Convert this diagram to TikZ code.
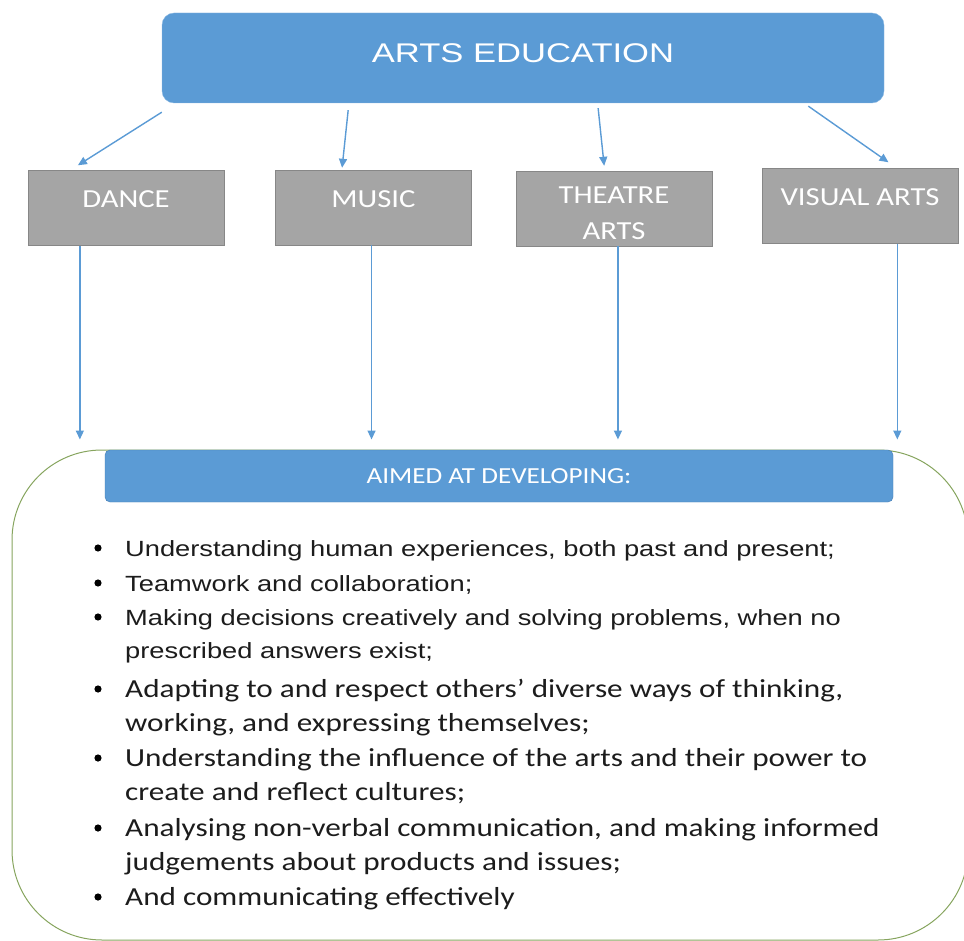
\documentclass[tikz,border=0pt]{standalone}
\usepackage{fontspec}
\newfontfamily\headfont[FakeStretch=1.28]{Liberation Sans}
\newfontfamily\boxfont[FakeStretch=1.18]{Carlito}
\newfontfamily\listfont[FakeStretch=1.24]{Liberation Sans}
\newfontfamily\wlistfont[FakeStretch=1.2]{Carlito}
\usetikzlibrary{arrows.meta,calc}
\definecolor{artblue}{RGB}{91,155,213}
\definecolor{artedge}{RGB}{70,125,180}
\definecolor{boxgray}{RGB}{165,165,165}
\definecolor{boxedge}{RGB}{135,135,135}
\definecolor{framegreen}{RGB}{135,165,95}
\definecolor{listtext}{RGB}{28,28,28}

\begin{document}
\begin{tikzpicture}[x=1pt,y=-1pt,
    subject/.style={draw=boxedge,fill=boxgray,text=white,minimum width=196pt,minimum height=75pt,inner sep=0pt,
      font=\boxfont\fontsize{26}{36}\selectfont,text height=16pt,text depth=16pt},
    arr/.style={draw=artblue,line width=1.4pt,-{Triangle[length=9pt,width=8pt]}},
    item/.style={anchor=base west,inner sep=0pt,text=listtext}]

  \useasboundingbox (0,0) rectangle (964,941);

  % frame round the aims
  \node[draw=framegreen,line width=1pt,rounded corners=90pt,fill=white,
    minimum width=956pt,minimum height=490pt] (frame) at (490,695) {};
  \node[draw=artedge,fill=artblue,rounded corners=5pt,minimum width=788pt,minimum height=52pt,
    text=white,font=\boxfont\fontsize{23}{28}\selectfont] (aimed) at (499,476) {AIMED AT DEVELOPING:};

  % head and the four arts
  \node[draw=artblue!70!white,fill=artblue,rounded corners=12pt,minimum width=722pt,minimum height=90pt,
    text=white,font=\headfont\fontsize{27}{32}\selectfont,text height=20pt,text depth=10pt] (top) at (523,58) {ARTS EDUCATION};
  \node[subject] (dance) at (126,208) {DANCE};
  \node[subject] (music) at (373.5,207.5) {MUSIC};
  \node[subject,text depth=25pt] (theatre) at (614,208.5)
    {\begin{tabular}[t]{@{}c@{}}THEATRE\\ARTS\end{tabular}};
  \node[subject] (visual) at (860,206) {VISUAL ARTS};

  \draw[arr] ($(top.south west)+(0,9)$) -- ($(dance.north west)!.255!(dance.north east)+(0,-5)$);
  \draw[arr] ($(top.south west)!.258!(top.south east)+(0,7)$) -- ($(music.north west)!.34!(music.north east)+(0,-2)$);
  \draw[arr] ($(top.south west)!.604!(top.south east)+(0,5)$) -- ($(theatre.north west)!.45!(theatre.north east)+(0,-5)$);
  \draw[arr] ($(top.south west)!.895!(top.south east)+(0,3)$) -- ($(visual.north west)!.645!(visual.north east)+(0,-6)$);

  \foreach \art/\f in {dance/.265,music/.49,theatre/.52,visual/.69}
    \draw[arr,shorten >=10pt] ($(\art.south west)!\f!(\art.south east)$) coordinate (\art-out)
      -- (\art-out |- frame.north);

  % the aims
  \foreach \yy/\aim in {556/{Understanding human experiences, both past and present;},
                        591/{Teamwork and collaboration;},
                        625/{Making decisions creatively and solving problems, when no\\prescribed answers exist;}}{
    \fill (98,\yy-8) circle (3.6pt);
    \node[item,font=\listfont\fontsize{22}{33}\selectfont] (aim\yy) at (125,\yy)
      {\begin{tabular}[t]{@{}l@{}}\aim\end{tabular}};
  }
  \foreach \yy/\aim in {697/{Adapting to and respect others’ diverse ways of thinking,\\working, and expressing themselves;},
                        766/{Understanding the influence of the arts and their power to\\create and reflect cultures;},
                        836/{Analysing non-verbal communication, and making informed\\judgements about products and issues;},
                        905/{And communicating effectively}}{
    \fill (98,\yy-8) circle (3.6pt);
    \node[item,font=\wlistfont\fontsize{26}{34}\selectfont] (aim\yy) at (125,\yy)
      {\begin{tabular}[t]{@{}l@{}}\aim\end{tabular}};
  }
\end{tikzpicture}
\end{document}
